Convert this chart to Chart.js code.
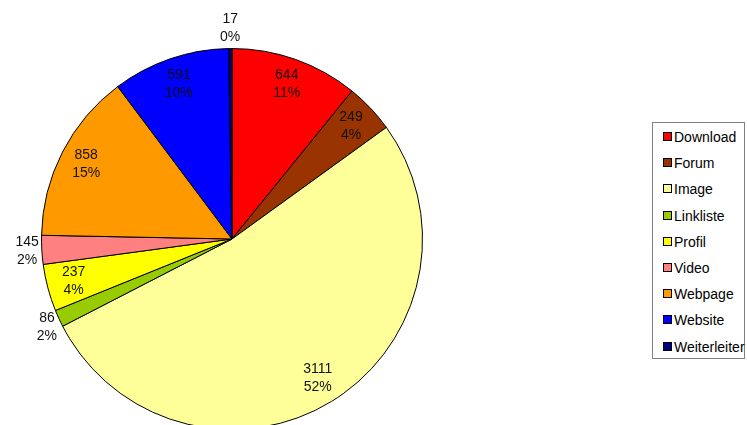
<!DOCTYPE html>
<html>
<head>
<meta charset="utf-8">
<script src="https://cdn.jsdelivr.net/npm/chart.js@4"></script>
<style>
  html, body { margin: 0; padding: 0; background: #fff; overflow: hidden; }
  #wrap { position: relative; width: 747px; height: 425px; overflow: hidden; }
  #legend {
    position: absolute; left: 652px; top: 122px; width: 93px; height: 237px;
    border: 1px solid #808080; box-sizing: border-box; background: #fff;
    font: 14px "Liberation Sans", Arial, sans-serif; color: #000;
  }
  #legend div { position: absolute; left: 10px; height: 16px; line-height: 16px; white-space: nowrap; }
  #legend span { display: inline-block; width: 7px; height: 7px; border: 1px solid #000; margin-right: 2px; vertical-align: 1px; }
</style>
</head>
<body>
<div id="wrap">
  <canvas id="pie" width="747" height="440"></canvas>
  <div id="legend"></div>
</div>
<script>
const categories = ["Download", "Forum", "Image", "Linkliste", "Profil", "Video", "Webpage", "Website", "Weiterleiter"];
const counts = [644, 249, 3111, 86, 237, 145, 858, 591, 17];
const percents = [11, 4, 52, 2, 4, 2, 15, 10, 0];
const colors = ["#FF0000", "#993300", "#FFFF99", "#99CC00", "#FFFF00", "#FF8080", "#FF9900", "#0000FF", "#000080"];

// legend box
const legend = document.getElementById("legend");
categories.forEach(function(name, i) {
  const row = document.createElement("div");
  row.style.top = (6 + i * 26.2) + "px";
  row.innerHTML = '<span style="background:' + colors[i] + '"></span>' + name;
  legend.appendChild(row);
});

// value + percent labels, inside or just outside the slice
const sliceLabels = {
  id: "sliceLabels",
  afterDatasetsDraw(chart) {
    const ctx = chart.ctx;
    const arcs = chart.getDatasetMeta(0).data;
    ctx.save();
    ctx.font = '14px "Liberation Sans", Arial, sans-serif';
    ctx.fillStyle = "#111";
    ctx.textAlign = "center";
    ctx.textBaseline = "middle";
    arcs.forEach(function(arc, i) {
      const p = arc.getProps(["x", "y", "startAngle", "endAngle", "outerRadius"], true);
      const mid = (p.startAngle + p.endAngle) / 2;
      const cos = Math.cos(mid), sin = Math.sin(mid);
      const l1 = String(counts[i]);
      const l2 = percents[i] + "%";
      let cx, cy;
      if (p.endAngle - p.startAngle >= 10 * Math.PI / 180) {
        cx = p.x + 0.86 * p.outerRadius * cos;
        cy = p.y + 0.86 * p.outerRadius * sin;
      } else {
        const w = Math.max(ctx.measureText(l1).width, ctx.measureText(l2).width);
        const h = 34;
        cx = p.x + (p.outerRadius + 3) * cos + cos * w / 2;
        cy = p.y + (p.outerRadius + 3) * sin + sin * h / 2;
      }
      ctx.fillText(l1, cx, cy - 9);
      ctx.fillText(l2, cx, cy + 9);
    });
    ctx.restore();
  }
};

new Chart(document.getElementById("pie"), {
  type: "pie",
  data: {
    labels: categories,
    datasets: [{
      data: counts,
      backgroundColor: colors,
      borderColor: "#000",
      borderWidth: 1
    }]
  },
  options: {
    responsive: false,
    animation: false,
    layout: { padding: { top: 48, bottom: 10, left: 41, right: 324 } },
    plugins: {
      legend: { display: false },
      tooltip: { enabled: false }
    }
  },
  plugins: [sliceLabels]
});
</script>
</body>
</html>
